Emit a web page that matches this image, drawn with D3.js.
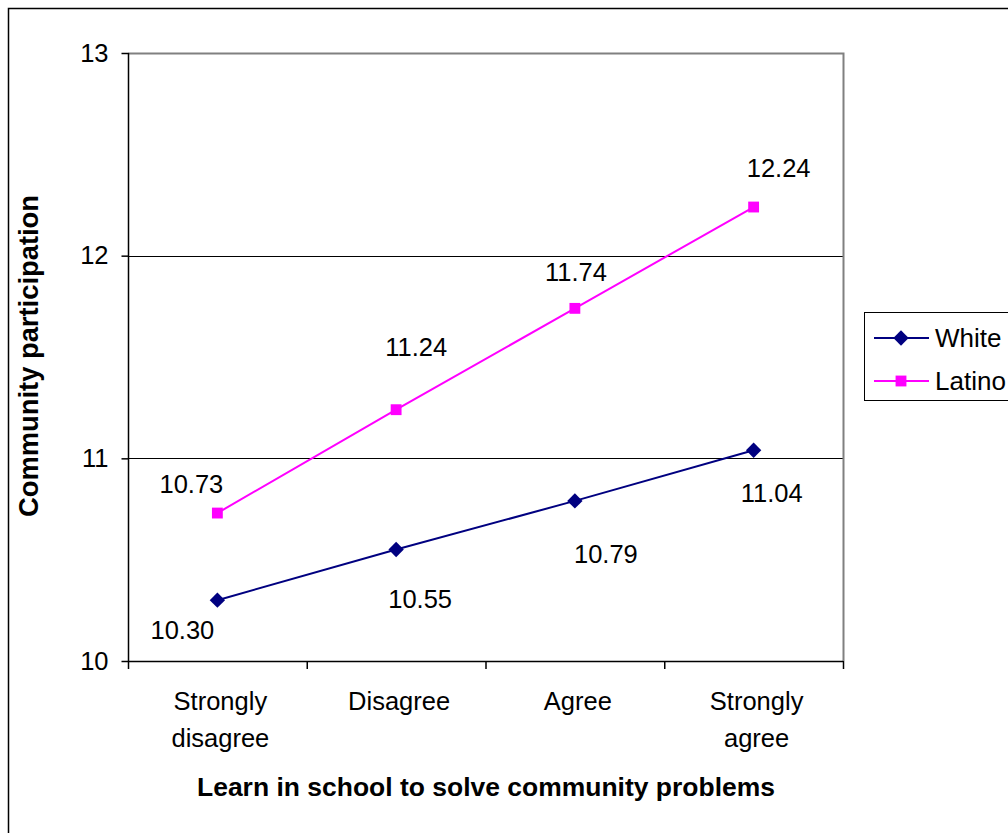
<!DOCTYPE html>
<html>
<head>
<meta charset="utf-8">
<script src="https://cdn.jsdelivr.net/npm/d3@7"></script>
<style>
  html, body { margin: 0; padding: 0; background: #fff; }
  svg { display: block; }
  text { font-family: "Liberation Sans", Arial, sans-serif; }
</style>
</head>
<body>
<script>
// Categories and series
const categories = ["Strongly disagree", "Disagree", "Agree", "Strongly agree"];
const categoryLines = [["Strongly", "disagree"], ["Disagree"], ["Agree"], ["Strongly", "agree"]];
const whiteValues = [10.30, 10.55, 10.79, 11.04];
const latinoValues = [10.73, 11.24, 11.74, 12.24];
const yTicks = [10, 11, 12, 13];
const seriesNames = ["White", "Latino"];

// Label offsets (pixels from the point to the label's centre)
const whiteLabelOffsets = [[-35, 30], [24, 50], [31, 53], [18, 43]];
const latinoLabelOffsets = [[-26, -29], [20, -63], [1, -36], [25, -39]];

const W = 1008, H = 833;
const plot = { left: 128, right: 843, top: 53, bottom: 661 };
const FS = 25.5;

const svg = d3.select("body").append("svg").attr("width", W).attr("height", H);

// Outer chart frame
svg.append("path")
  .attr("d", `M8.5,${H} V8.5 H${W}`)
  .attr("fill", "none").attr("stroke", "#000").attr("stroke-width", 1.5);

const x = d3.scaleBand().domain(categories).range([plot.left, plot.right]).padding(0);
const y = d3.scaleLinear().domain([10, 13]).range([plot.bottom, plot.top]);
const cx = c => x(c) + x.bandwidth() / 2;

// Gridlines
svg.append("g").selectAll("line").data(yTicks.filter(t => t > 10 && t < 13)).join("line")
  .attr("x1", plot.left).attr("x2", plot.right)
  .attr("y1", d => Math.round(y(d)) + 0.5).attr("y2", d => Math.round(y(d)) + 0.5)
  .attr("stroke", "#000").attr("stroke-width", 1);

// Plot border (top and right, grey)
svg.append("path")
  .attr("d", `M${plot.left},${plot.top + 0.5} H${plot.right + 0.5} V${plot.bottom}`)
  .attr("fill", "none").attr("stroke", "#808080").attr("stroke-width", 2);

// Y axis
const yAxis = d3.axisLeft(y).tickValues(yTicks).tickSize(7).tickPadding(13).tickFormat(d3.format("d"));
const gy = svg.append("g").attr("transform", `translate(${plot.left + 0.5},0)`).call(yAxis);
gy.select(".domain").attr("stroke", "#000").attr("stroke-width", 1.5).attr("d", `M0,${plot.top}V${plot.bottom}`);
gy.selectAll(".tick line").attr("stroke", "#000").attr("stroke-width", 1.5);
gy.selectAll(".tick text").attr("font-size", FS).attr("fill", "#000")
  .attr("font-family", "'Liberation Sans', Arial, sans-serif");

// X axis: ticks at category boundaries
const xBounds = categories.map(c => x(c)).concat([plot.right]);
const gx = svg.append("g");
gx.append("line").attr("x1", plot.left).attr("x2", plot.right)
  .attr("y1", plot.bottom + 0.5).attr("y2", plot.bottom + 0.5)
  .attr("stroke", "#000").attr("stroke-width", 1.5);
gx.selectAll("line.tk").data(xBounds).join("line").attr("class", "tk")
  .attr("x1", d => d + 0.5).attr("x2", d => d + 0.5)
  .attr("y1", plot.bottom).attr("y2", plot.bottom + 8)
  .attr("stroke", "#000").attr("stroke-width", 1.5);
gx.selectAll("text.cat").data(categories).join("text").attr("class", "cat")
  .attr("x", d => cx(d) + 3).attr("y", 710)
  .attr("text-anchor", "middle").attr("font-size", FS)
  .each(function(d, i) {
    const t = d3.select(this);
    categoryLines[i].forEach((ln, j) => {
      t.append("tspan").attr("x", cx(d) + 3).attr("dy", j === 0 ? 0 : 37).text(ln);
    });
  });

// Axis titles
svg.append("text")
  .attr("x", 486).attr("y", 796)
  .attr("text-anchor", "middle").attr("font-size", 26).attr("font-weight", "bold")
  .attr("textLength", 578).attr("lengthAdjust", "spacingAndGlyphs")
  .text("Learn in school to solve community problems");
svg.append("text")
  .attr("transform", "translate(38,356) rotate(-90)")
  .attr("text-anchor", "middle").attr("font-size", 28).attr("font-weight", "bold")
  .attr("textLength", 322).attr("lengthAdjust", "spacingAndGlyphs")
  .text("Community participation");

const line = d3.line().x((d, i) => cx(categories[i])).y(d => y(d));

// Series lines
svg.append("path").datum(latinoValues).attr("d", line)
  .attr("fill", "none").attr("stroke", "#FF00FF").attr("stroke-width", 2);
svg.append("path").datum(whiteValues).attr("d", line)
  .attr("fill", "none").attr("stroke", "#000080").attr("stroke-width", 2);

// Markers
const diamond = d3.symbol().type(d3.symbolDiamond2).size(150);
const square = d3.symbol().type(d3.symbolSquare2).size(150);
svg.append("g").selectAll("path").data(whiteValues).join("path")
  .attr("transform", (d, i) => `translate(${cx(categories[i])},${y(d)})`)
  .attr("d", diamond).attr("fill", "#000080");
svg.append("g").selectAll("path").data(latinoValues).join("path")
  .attr("transform", (d, i) => `translate(${cx(categories[i])},${y(d)})`)
  .attr("d", square).attr("fill", "#FF00FF");

// Data labels
function labels(values, offsets) {
  svg.append("g").selectAll("text").data(values).join("text")
    .attr("x", (d, i) => cx(categories[i]) + offsets[i][0])
    .attr("y", (d, i) => y(d) + offsets[i][1])
    .attr("dy", "0.35em")
    .attr("text-anchor", "middle").attr("font-size", FS).attr("fill", "#000")
    .text(d => d.toFixed(2));
}
labels(latinoValues, latinoLabelOffsets);
labels(whiteValues, whiteLabelOffsets);

// Legend
const lg = svg.append("g");
lg.append("rect").attr("x", 864.5).attr("y", 312.5).attr("width", 200).attr("height", 88)
  .attr("fill", "#fff").attr("stroke", "#000").attr("stroke-width", 1);
const legendColors = ["#000080", "#FF00FF"];
const legendSymbols = [diamond, square];
seriesNames.forEach((name, i) => {
  const ly = 338 + i * 43;
  lg.append("line").attr("x1", 874).attr("x2", 929).attr("y1", ly).attr("y2", ly)
    .attr("stroke", legendColors[i]).attr("stroke-width", 2);
  lg.append("path").attr("transform", `translate(901,${ly})`)
    .attr("d", legendSymbols[i]).attr("fill", legendColors[i]);
  lg.append("text").attr("x", 935).attr("y", ly).attr("dy", "0.35em")
    .attr("font-size", 26).text(name);
});
</script>
</body>
</html>
